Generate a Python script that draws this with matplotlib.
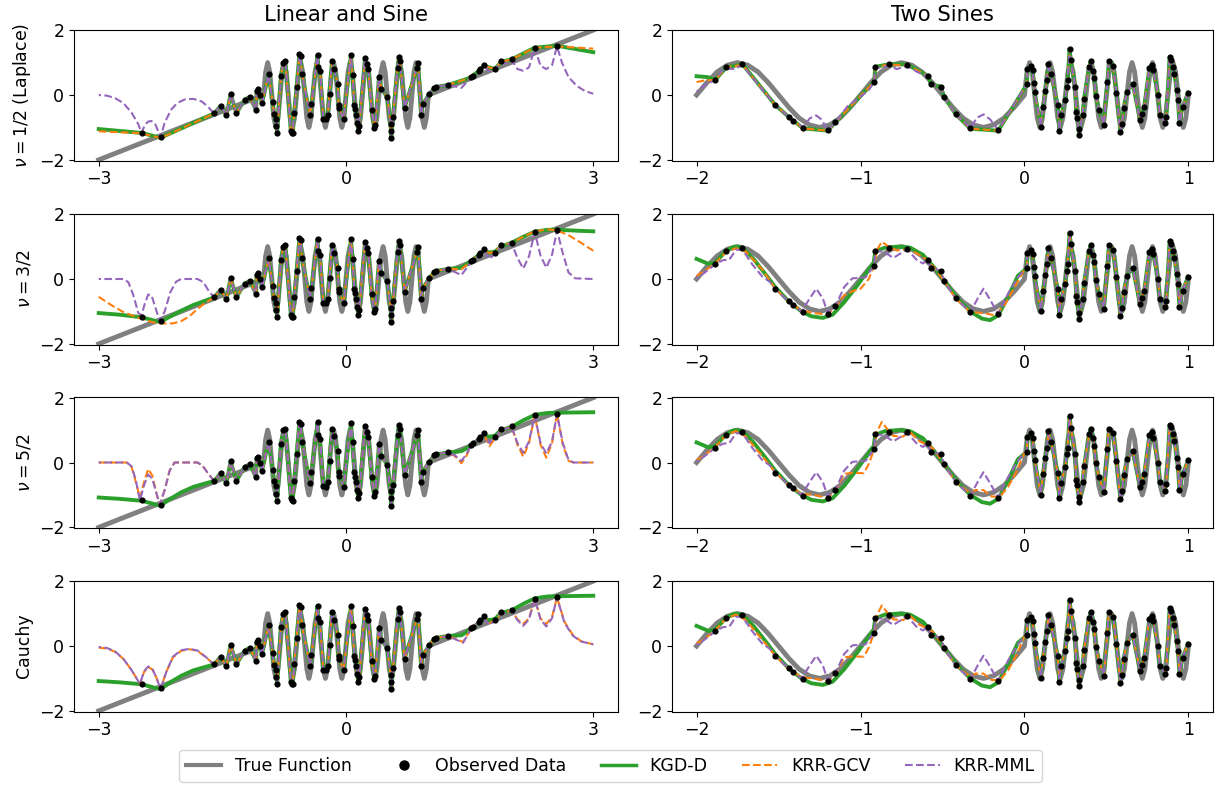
"""Kernel regression fits (KGD-D, KRR-GCV, KRR-MML) on two toy targets,
one row per kernel. Values read off the reference figure.
"""
import matplotlib
matplotlib.use("Agg")
import matplotlib.pyplot as plt
import numpy as np
from matplotlib.lines import Line2D

# ---------------- Linear and Sine ----------------
# true function: straight line, fast sine on [-1, 1], straight line
LS_TRUE_LEFT = [(-3.0, -2.0)]
LS_TRUE_RIGHT = [(3.0, 2.0)]
LS_SINE_Y = [
    0, .71, 1, .71, 0, -.71, -1, -.71,
    0, .71, 1, .71, 0, -.71, -1, -.71,
    0, .71, 1, .71, 0, -.71, -1, -.71,
    0, .71, 1, .71, 0, -.71, -1, -.71,
    0, .71, 1, .71, 0, -.71, -1, -.71,
    0, .71, 1, .71, 0, -.71, -1, -.71,
    0, .71, 1, .71, 0, -.71, -1, -.71,
    0, .71, 1, .71, 0, -.71, -1, -.71,
    0, .71, 1, .71, 0, -.71, -1, -.71,
    0, .71, 1, .71, 0, -.71, -1, -.71,
    0,
]
LS_SINE_RANGE = (-1.0, 1.0)

LS_OBS_X = [-2.48, -2.25, -1.60, -1.52, -1.45, -1.40, -1.33, -1.23, -1.17, -1.09,
            -1.085, -1.065, -1.045, -1.02, -0.94, -0.89, -0.875, -0.855, -0.845, -0.835,
            -0.79, -0.76, -0.735, -0.67, -0.655, -0.645, -0.63, -0.6, -0.565, -0.55,
            -0.535, -0.435, -0.42, -0.345, -0.335, -0.315, -0.275, -0.245, -0.22, -0.2,
            -0.17, -0.145, -0.1, -0.09, -0.08, -0.03, 0.06, 0.08, 0.1, 0.11,
            0.125, 0.135, 0.15, 0.16, 0.23, 0.255, 0.27, 0.31, 0.345, 0.355,
            0.4, 0.43, 0.5, 0.54, 0.545, 0.55, 0.57, 0.625, 0.64, 0.655,
            0.71, 0.86, 0.875, 0.91, 0.93, 1.01, 1.07, 1.09, 1.24, 1.52,
            1.54, 1.61, 1.63, 1.67, 1.81, 1.88, 2.01, 2.29, 2.56]
LS_OBS_Y = [-1.17, -1.31, -0.57, -0.33, -0.63, 0.04, -0.57, -0.14, -0.06, -0.46,
            0.13, 0.17, 0.0, -0.26, 0.64, -0.22, -0.58, -0.74, -0.96, -1.18,
            0.58, 1.0, 1.04, -1.10, -1.16, -1.18, -0.56, 0.25, 1.26, 1.20,
            0.64, -0.63, -0.29, 1.24, 0.85, 0.74, -0.74, -0.75, -0.61, 0.04,
            1.04, 0.81, 0.34, -0.30, -0.41, -0.75, 1.23, 0.62, -0.30, -0.44,
            -0.61, -0.85, -1.10, -0.95, 1.13, 0.95, 0.80, -0.45, -1.02, -0.92,
            0.57, 0.2, -0.07, -0.88, -1.10, -1.33, -0.69, 0.84, 1.16, 1.04,
            -0.40, 0.84, 0.99, -0.61, -0.29, 0.02, 0.22, 0.25, 0.31, 0.54,
            0.60, 0.74, 0.79, 0.92, 0.79, 1.04, 1.12, 1.45, 1.51]
# fits follow the observations inside this window, tails are read separately
LS_FOLLOW = (-1.6, 1.3)

# Laplace (nu = 1/2)
LS_KGD_LAP_L = [(-3, -1.05), (-2.48, -1.17), (-2.25, -1.32), (-1.6, -0.57)]
LS_KGD_LAP_R = [(1.52, 0.54), (1.54, 0.6), (1.61, 0.74), (1.63, 0.79), (1.67, 0.9), (1.81, 0.8),
                (1.88, 1.02), (2.01, 1.1), (2.29, 1.46), (2.56, 1.52), (3.0, 1.32)]
LS_GCV_LAP_L = [(-3, -1.12), (-2.48, -1.18), (-2.25, -1.33), (-1.6, -0.57)]
LS_GCV_LAP_R = [(1.52, 0.54), (1.54, 0.6), (1.61, 0.74), (1.63, 0.79), (1.67, 0.9), (1.81, 0.8),
                (1.88, 1.02), (2.01, 1.1), (2.29, 1.46), (2.56, 1.5), (3.0, 1.43)]
LS_MML_LAP_L = [(-3, 0.0), (-2.9, -0.02), (-2.8, -0.1), (-2.7, -0.25), (-2.6, -0.55), (-2.52, -0.9),
                (-2.48, -1.17), (-2.44, -0.92), (-2.4, -0.82), (-2.36, -0.8), (-2.31, -0.92),
                (-2.25, -1.31), (-2.2, -0.85), (-2.12, -0.45), (-2.05, -0.25), (-1.95, -0.13),
                (-1.85, -0.12), (-1.75, -0.2), (-1.68, -0.35), (-1.6, -0.57)]
LS_MML_LAP_R = [(1.4, 0.22), (1.52, 0.54), (1.54, 0.6), (1.61, 0.74), (1.63, 0.79), (1.67, 0.9),
                (1.74, 0.72), (1.81, 0.78), (1.88, 1.02), (1.95, 0.98), (2.01, 1.08), (2.08, 0.8),
                (2.15, 0.75), (2.22, 0.85), (2.29, 1.45), (2.36, 0.9), (2.43, 0.8), (2.5, 0.92),
                (2.56, 1.5), (2.62, 1.0), (2.7, 0.55), (2.8, 0.28), (2.9, 0.12), (3.0, 0.04)]

# Matern nu = 3/2
LS_KGD_M32_L = [(-3, -1.05), (-2.75, -1.1), (-2.48, -1.18), (-2.3, -1.3), (-2.25, -1.32),
                (-2.15, -1.18), (-2.0, -0.98), (-1.85, -0.8), (-1.7, -0.66), (-1.6, -0.57)]
LS_KGD_M32_R = [(1.4, 0.35), (1.52, 0.56), (1.61, 0.74), (1.67, 0.85), (1.75, 0.82), (1.81, 0.85),
                (1.88, 1.0), (2.01, 1.12), (2.15, 1.3), (2.29, 1.46), (2.45, 1.52), (2.56, 1.52),
                (2.8, 1.49), (3.0, 1.47)]
LS_GCV_M32_L = [(-3, -0.55), (-2.85, -0.8), (-2.7, -1.02), (-2.55, -1.17), (-2.45, -1.25),
                (-2.35, -1.33), (-2.25, -1.37), (-2.1, -1.37), (-2.0, -1.3), (-1.9, -1.15),
                (-1.8, -0.92), (-1.7, -0.72), (-1.6, -0.57)]
LS_GCV_M32_R = [(1.4, 0.3), (1.52, 0.56), (1.61, 0.78), (1.67, 0.88), (1.75, 0.8), (1.81, 0.85),
                (1.88, 1.02), (2.01, 1.12), (2.15, 1.3), (2.29, 1.47), (2.45, 1.53), (2.56, 1.5),
                (2.7, 1.35), (2.85, 1.12), (3.0, 0.87)]
LS_MML_M32_L = [(-3, 0.0), (-2.7, 0.0), (-2.64, -0.1), (-2.58, -0.5), (-2.52, -1.05), (-2.48, -1.12),
                (-2.44, -0.75), (-2.4, -0.48), (-2.36, -0.5), (-2.31, -0.9), (-2.26, -1.3),
                (-2.2, -1.0), (-2.13, -0.4), (-2.06, -0.08), (-2.0, 0.0), (-1.8, 0.0),
                (-1.73, -0.1), (-1.67, -0.35), (-1.6, -0.57)]
LS_MML_M32_R = [(1.4, 0.12), (1.52, 0.54), (1.61, 0.74), (1.67, 0.88), (1.74, 0.62), (1.81, 0.78),
                (1.88, 1.0), (2.01, 1.1), (2.08, 0.65), (2.15, 0.32), (2.22, 0.7), (2.29, 1.45),
                (2.36, 0.72), (2.43, 0.35), (2.5, 0.75), (2.56, 1.5), (2.63, 0.8), (2.7, 0.2),
                (2.78, 0.02), (3.0, 0.0)]

# Matern nu = 5/2
LS_KGD_M52_L = [(-3, -1.08), (-2.75, -1.12), (-2.48, -1.18), (-2.3, -1.3), (-2.25, -1.33),
                (-2.15, -1.15), (-2.0, -0.92), (-1.85, -0.75), (-1.7, -0.64), (-1.6, -0.57)]
LS_KGD_M52_R = [(1.4, 0.35), (1.52, 0.52), (1.61, 0.72), (1.67, 0.82), (1.75, 0.8), (1.81, 0.83),
                (1.88, 1.0), (2.01, 1.1), (2.15, 1.3), (2.29, 1.47), (2.45, 1.53), (2.7, 1.54),
                (3.0, 1.55)]
LS_GCV_M52_L = [(-3, 0.0), (-2.66, 0.0), (-2.6, -0.15), (-2.55, -0.6), (-2.5, -1.1), (-2.45, -0.6),
                (-2.4, -0.2), (-2.35, -0.4), (-2.3, -0.95), (-2.26, -1.3), (-2.2, -0.85),
                (-2.14, -0.25), (-2.08, 0.0), (-1.8, 0.0), (-1.74, -0.1), (-1.67, -0.35), (-1.6, -0.57)]
LS_GCV_M52_R = [(1.32, 0.2), (1.4, -0.02), (1.46, 0.2), (1.52, 0.54), (1.61, 0.74), (1.67, 0.9),
                (1.74, 0.5), (1.81, 0.75), (1.88, 1.0), (2.01, 1.1), (2.08, 0.55), (2.15, 0.18),
                (2.22, 0.6), (2.29, 1.45), (2.36, 0.55), (2.43, 0.15), (2.5, 0.6), (2.56, 1.5),
                (2.63, 0.55), (2.7, 0.05), (2.76, 0.0), (3.0, 0.0)]
LS_MML_M52_L = [(-3, 0.0), (-2.66, 0.0), (-2.6, -0.12), (-2.55, -0.55), (-2.5, -1.17), (-2.45, -0.7),
                (-2.4, -0.37), (-2.35, -0.5), (-2.3, -0.95), (-2.26, -1.3), (-2.2, -0.85),
                (-2.14, -0.25), (-2.08, 0.0), (-1.8, 0.0), (-1.74, -0.1), (-1.67, -0.35), (-1.6, -0.57)]
LS_MML_M52_R = [(1.32, 0.22), (1.4, 0.05), (1.46, 0.25), (1.52, 0.54), (1.61, 0.74), (1.67, 0.88),
                (1.74, 0.6), (1.81, 0.78), (1.88, 1.0), (2.01, 1.1), (2.08, 0.6), (2.15, 0.3),
                (2.22, 0.65), (2.29, 1.45), (2.36, 0.6), (2.43, 0.28), (2.5, 0.65), (2.56, 1.5),
                (2.63, 0.6), (2.7, 0.08), (2.76, 0.0), (3.0, 0.0)]

# Cauchy
LS_KGD_CAU_L = [(-3, -1.08), (-2.75, -1.12), (-2.48, -1.18), (-2.3, -1.3), (-2.25, -1.33),
                (-2.15, -1.15), (-2.0, -0.92), (-1.85, -0.75), (-1.7, -0.64), (-1.6, -0.57)]
LS_KGD_CAU_R = [(1.4, 0.33), (1.52, 0.52), (1.61, 0.72), (1.67, 0.82), (1.75, 0.8), (1.81, 0.84),
                (1.88, 1.02), (2.01, 1.1), (2.15, 1.3), (2.29, 1.47), (2.45, 1.53), (2.7, 1.54),
                (3.0, 1.55)]
LS_GCV_CAU_L = [(-3, -0.05), (-2.9, -0.08), (-2.8, -0.18), (-2.7, -0.4), (-2.6, -0.75), (-2.5, -1.17),
                (-2.45, -0.8), (-2.4, -0.65), (-2.35, -0.72), (-2.3, -0.98), (-2.25, -1.32),
                (-2.18, -0.8), (-2.1, -0.35), (-2.0, -0.15), (-1.9, -0.1), (-1.8, -0.15),
                (-1.7, -0.35), (-1.6, -0.57)]
LS_GCV_CAU_R = [(1.35, 0.2), (1.42, 0.12), (1.52, 0.54), (1.61, 0.74), (1.67, 0.88), (1.74, 0.7),
                (1.81, 0.8), (1.88, 1.0), (2.01, 1.1), (2.08, 0.82), (2.15, 0.68), (2.22, 0.85),
                (2.29, 1.45), (2.36, 0.85), (2.43, 0.68), (2.5, 0.9), (2.56, 1.5), (2.65, 0.75),
                (2.75, 0.35), (2.85, 0.15), (3.0, 0.05)]
LS_MML_CAU_L = [(-3, -0.03), (-2.9, -0.06), (-2.8, -0.17), (-2.7, -0.4), (-2.6, -0.75), (-2.5, -1.17),
                (-2.45, -0.78), (-2.4, -0.63), (-2.35, -0.7), (-2.3, -0.98), (-2.25, -1.32),
                (-2.18, -0.8), (-2.1, -0.33), (-2.0, -0.13), (-1.9, -0.09), (-1.8, -0.14),
                (-1.7, -0.34), (-1.6, -0.57)]
LS_MML_CAU_R = [(1.35, 0.18), (1.42, 0.1), (1.52, 0.54), (1.61, 0.74), (1.67, 0.86), (1.74, 0.66),
                (1.81, 0.78), (1.88, 1.0), (2.01, 1.1), (2.08, 0.8), (2.15, 0.62), (2.22, 0.82),
                (2.29, 1.45), (2.36, 0.82), (2.43, 0.6), (2.5, 0.86), (2.56, 1.5), (2.65, 0.72),
                (2.75, 0.32), (2.85, 0.14), (3.0, 0.05)]

# ---------------- Two Sines ----------------
TS_SLOW_Y = [
    0, .38, .71, .92, 1, .92, .71, .38, 0, -.38, -.71, -.92, -1, -.92, -.71, -.38,
    0, .38, .71, .92, 1, .92, .71, .38, 0, -.38, -.71, -.92, -1, -.92, -.71, -.38,
    0,
]
TS_SLOW_RANGE = (-2.0, 0.0)
TS_FAST_Y = [
    0, .71, 1, .71, 0, -.71, -1, -.71,
    0, .71, 1, .71, 0, -.71, -1, -.71,
    0, .71, 1, .71, 0, -.71, -1, -.71,
    0, .71, 1, .71, 0, -.71, -1, -.71,
    0, .71, 1, .71, 0, -.71, -1, -.71,
    0, .71, 1, .71, 0, -.71, -1, -.71,
    0, .71, 1, .71, 0, -.71, -1, -.71,
    0, .71, 1, .71, 0, -.71, -1, -.71,
    0,
]
TS_FAST_RANGE = (0.0, 1.0)

TS_OBS_X = [-1.887, -1.82, -1.72, -1.52, -1.437, -1.41, -1.35, -1.2, -1.153, -0.917,
            -0.91, -0.825, -0.715, -0.59, -0.57, -0.51, -0.49, -0.42, -0.33, -0.16,
            0.015, 0.018, 0.04, 0.05, 0.058, 0.062, 0.1, 0.112, 0.128, 0.138,
            0.146, 0.162, 0.203, 0.212, 0.223, 0.249, 0.259, 0.263, 0.275, 0.283,
            0.309, 0.315, 0.319, 0.33, 0.333, 0.354, 0.363, 0.394, 0.404, 0.42,
            0.425, 0.434, 0.455, 0.485, 0.505, 0.515, 0.541, 0.561, 0.585, 0.595,
            0.605, 0.625, 0.66, 0.705, 0.715, 0.73, 0.762, 0.776, 0.785, 0.815,
            0.825, 0.855, 0.865, 0.885, 0.895, 0.905, 0.915, 0.928, 0.936, 0.945,
            0.965, 0.998]
TS_OBS_Y = [0.46, 0.85, 0.95, -0.31, -0.68, -0.79, -1.02, -1.09, -0.84, 0.41,
            0.87, 0.95, 0.94, 0.59, 0.33, 0.26, -0.06, -0.59, -1.03, -1.09,
            0.33, 0.79, 0.90, 0.77, 0.36, 0.08, -0.99, -0.36, 0.13, 0.46,
            0.97, 0.64, -0.31, -1.10, -0.63, -0.15, 0.26, 0.46, 1.43, 1.07,
            0.26, -0.53, -0.70, -1.05, -1.23, -0.61, -0.12, 0.87, 1.04, 0.75,
            0.52, -0.02, -0.46, -0.91, 0.41, 1.04, 0.90, 0.05, -1.13, -0.89,
            -0.39, 0.10, 0.35, -0.77, -0.60, -0.36, 0.84, 0.94, 0.77, 0.0,
            -0.61, -0.87, -0.67, 1.16, 1.08, 0.87, 0.66, 0.15, -0.15, -0.85,
            -0.36, 0.07]
TS_FOLLOW = (0.0, 1.1)

TS_KGD_LAP = [(-2.0, 0.58), (-1.93, 0.55), (-1.887, 0.46), (-1.82, 0.85), (-1.72, 0.95), (-1.52, -0.31),
              (-1.437, -0.68), (-1.41, -0.79), (-1.35, -1.03), (-1.2, -1.1), (-1.153, -0.84),
              (-0.917, 0.41), (-0.91, 0.87), (-0.825, 0.95), (-0.715, 0.94), (-0.59, 0.59),
              (-0.57, 0.33), (-0.51, 0.26), (-0.49, -0.06), (-0.42, -0.59), (-0.33, -1.04),
              (-0.16, -1.1)]
TS_GCV_LAP = [(-2.0, 0.4), (-1.95, 0.45), (-1.887, 0.46), (-1.82, 0.85), (-1.72, 0.93), (-1.52, -0.31),
              (-1.437, -0.68), (-1.41, -0.79), (-1.35, -1.03), (-1.2, -1.1), (-1.153, -0.84),
              (-0.917, 0.41), (-0.91, 0.87), (-0.825, 0.93), (-0.715, 0.92), (-0.59, 0.59),
              (-0.57, 0.33), (-0.51, 0.26), (-0.49, -0.06), (-0.42, -0.59), (-0.33, -1.04),
              (-0.16, -1.1)]
TS_MML_LAP = [(-2.0, 0.1), (-1.95, 0.3), (-1.887, 0.46), (-1.85, 0.72), (-1.82, 0.82), (-1.77, 0.8),
              (-1.72, 0.92), (-1.62, 0.3), (-1.52, -0.31), (-1.437, -0.68), (-1.41, -0.79),
              (-1.35, -1.0), (-1.31, -0.72), (-1.27, -0.63), (-1.24, -0.75), (-1.2, -1.08),
              (-1.153, -0.84), (-1.08, -0.35), (-1.0, -0.05), (-0.95, 0.15), (-0.917, 0.41),
              (-0.91, 0.85), (-0.87, 0.84), (-0.825, 0.92), (-0.78, 0.8), (-0.715, 0.9),
              (-0.65, 0.7), (-0.59, 0.59), (-0.57, 0.33), (-0.51, 0.26), (-0.49, -0.06),
              (-0.42, -0.59), (-0.33, -1.02), (-0.29, -0.7), (-0.25, -0.6), (-0.21, -0.75),
              (-0.16, -1.08), (-0.1, -0.6), (-0.04, -0.1)]
TS_KGD_SMOOTH = [(-2.0, 0.62), (-1.93, 0.47), (-1.887, 0.5), (-1.82, 0.87), (-1.77, 1.0), (-1.72, 0.97),
                 (-1.65, 0.6), (-1.58, 0.15), (-1.52, -0.25), (-1.44, -0.68), (-1.36, -1.0),
                 (-1.3, -1.15), (-1.23, -1.2), (-1.17, -1.1), (-1.1, -0.72), (-1.02, -0.2),
                 (-0.96, 0.22), (-0.92, 0.5), (-0.91, 0.85), (-0.85, 0.97), (-0.77, 1.0),
                 (-0.7, 0.97), (-0.62, 0.75), (-0.55, 0.35), (-0.48, -0.12), (-0.4, -0.65),
                 (-0.33, -1.0), (-0.26, -1.22), (-0.21, -1.27), (-0.16, -1.12), (-0.1, -0.55),
                 (-0.04, 0.1)]
TS_GCV_M32 = [(-2.0, 0.1), (-1.95, 0.25), (-1.887, 0.48), (-1.82, 0.83), (-1.76, 0.95), (-1.7, 0.85),
              (-1.6, 0.3), (-1.52, -0.3), (-1.44, -0.68), (-1.36, -0.98), (-1.28, -1.05),
              (-1.2, -1.1), (-1.15, -0.85), (-1.1, -0.5), (-1.05, -0.38), (-1.0, -0.3),
              (-0.95, 0.0), (-0.917, 0.41), (-0.9, 0.9), (-0.87, 1.15), (-0.83, 1.0), (-0.78, 0.88),
              (-0.72, 0.9), (-0.66, 0.8), (-0.59, 0.58), (-0.55, 0.35), (-0.49, -0.06),
              (-0.42, -0.6), (-0.33, -1.02), (-0.25, -1.05), (-0.18, -1.12), (-0.12, -0.8),
              (-0.06, -0.25), (0.0, 0.3)]
TS_GCV_SMOOTH = [(-2.0, 0.08), (-1.95, 0.22), (-1.887, 0.48), (-1.82, 0.85), (-1.76, 0.97), (-1.7, 0.8),
                 (-1.6, 0.2), (-1.52, -0.3), (-1.44, -0.7), (-1.36, -0.97), (-1.28, -1.0),
                 (-1.2, -1.1), (-1.15, -0.85), (-1.1, -0.35), (-1.05, -0.32), (-0.98, -0.33),
                 (-0.95, -0.05), (-0.917, 0.41), (-0.9, 0.95), (-0.87, 1.25), (-0.84, 1.05),
                 (-0.8, 0.82), (-0.74, 0.8), (-0.7, 0.95), (-0.64, 0.65), (-0.59, 0.55),
                 (-0.55, 0.4), (-0.49, -0.06), (-0.42, -0.6), (-0.33, -0.95), (-0.3, -0.85),
                 (-0.25, -0.85), (-0.2, -1.05), (-0.15, -1.05), (-0.1, -0.75), (-0.05, -0.3),
                 (0.0, 0.3)]
TS_MML_SMOOTH = [(-2.0, 0.03), (-1.95, 0.2), (-1.887, 0.45), (-1.84, 0.58), (-1.8, 0.6), (-1.76, 0.9),
                 (-1.72, 0.9), (-1.66, 0.45), (-1.6, 0.08), (-1.55, -0.1), (-1.52, -0.31),
                 (-1.44, -0.68), (-1.36, -1.0), (-1.31, -0.6), (-1.27, -0.3), (-1.23, -0.6),
                 (-1.2, -1.05), (-1.153, -0.84), (-1.1, -0.25), (-1.05, 0.02), (-0.97, 0.05),
                 (-0.917, 0.41), (-0.91, 0.85), (-0.86, 0.85), (-0.8, 0.65), (-0.715, 0.92),
                 (-0.66, 0.6), (-0.62, 0.48), (-0.59, 0.58), (-0.57, 0.33), (-0.51, 0.26),
                 (-0.49, -0.06), (-0.42, -0.59), (-0.33, -1.02), (-0.28, -0.55), (-0.25, -0.3),
                 (-0.22, -0.55), (-0.16, -1.08), (-0.1, -0.45), (-0.04, 0.05), (0.0, 0.3)]

ROW_LABELS = [r"$\nu = 1/2$ (Laplace)", r"$\nu = 3/2$", r"$\nu = 5/2$", "Cauchy"]
COL_TITLES = ["Linear and Sine", "Two Sines"]
SERIES = ["True Function", "Observed Data", "KGD-D", "KRR-GCV", "KRR-MML"]

C_TRUE, C_KGD, C_GCV, C_MML = "gray", "#2ca02c", "#ff7f0e", "#9467bd"


def build_fit(left, obs_x, obs_y, window, right=()):
    lo, hi = window
    keep = (obs_x > lo) & (obs_x < hi)
    xs = [p[0] for p in left] + list(obs_x[keep]) + [p[0] for p in right]
    ys = [p[1] for p in left] + list(obs_y[keep]) + [p[1] for p in right]
    return np.array(xs), np.array(ys)


def main():
    plt.rcParams["font.size"] = 12.5

    ls_x, ls_y = np.array(LS_OBS_X), np.array(LS_OBS_Y)
    ts_x, ts_y = np.array(TS_OBS_X), np.array(TS_OBS_Y)

    sine_x = np.linspace(*LS_SINE_RANGE, len(LS_SINE_Y))
    ls_true_x = np.r_[[p[0] for p in LS_TRUE_LEFT], sine_x, [p[0] for p in LS_TRUE_RIGHT]]
    ls_true_y = np.r_[[p[1] for p in LS_TRUE_LEFT], LS_SINE_Y, [p[1] for p in LS_TRUE_RIGHT]]
    slow_x = np.linspace(*TS_SLOW_RANGE, len(TS_SLOW_Y))
    fast_x = np.linspace(*TS_FAST_RANGE, len(TS_FAST_Y))
    ts_true_x = np.r_[slow_x, fast_x[1:]]
    ts_true_y = np.r_[TS_SLOW_Y, TS_FAST_Y[1:]]

    ls_fits = [
        [(LS_KGD_LAP_L, LS_KGD_LAP_R), (LS_GCV_LAP_L, LS_GCV_LAP_R), (LS_MML_LAP_L, LS_MML_LAP_R)],
        [(LS_KGD_M32_L, LS_KGD_M32_R), (LS_GCV_M32_L, LS_GCV_M32_R), (LS_MML_M32_L, LS_MML_M32_R)],
        [(LS_KGD_M52_L, LS_KGD_M52_R), (LS_GCV_M52_L, LS_GCV_M52_R), (LS_MML_M52_L, LS_MML_M52_R)],
        [(LS_KGD_CAU_L, LS_KGD_CAU_R), (LS_GCV_CAU_L, LS_GCV_CAU_R), (LS_MML_CAU_L, LS_MML_CAU_R)],
    ]
    ts_fits = [
        [TS_KGD_LAP, TS_GCV_LAP, TS_MML_LAP],
        [TS_KGD_SMOOTH, TS_GCV_M32, TS_MML_SMOOTH],
        [TS_KGD_SMOOTH, TS_GCV_SMOOTH, TS_MML_SMOOTH],
        [TS_KGD_SMOOTH, TS_GCV_SMOOTH, TS_MML_SMOOTH],
    ]

    W, H = 1216, 785
    fig = plt.figure(figsize=(W / 100, H / 100), dpi=100)
    col_px = [(74, 618), (672, 1213)]
    row_top = [29.5, 213.5, 397.0, 580.5]
    row_h = 131

    fit_styles = [
        dict(color=C_KGD, lw=2.8, ls="-", zorder=2),
        dict(color=C_GCV, lw=1.5, ls=(0, (3.7, 1.6)), zorder=3),
        dict(color=C_MML, lw=1.5, ls=(2.6, (3.7, 1.6)), zorder=4),
    ]

    for r in range(4):
        for c in range(2):
            x0, x1 = col_px[c]
            ax = fig.add_axes([x0 / W, 1 - (row_top[r] + row_h) / H, (x1 - x0) / W, row_h / H])
            if c == 0:
                ax.plot(ls_true_x, ls_true_y, color=C_TRUE, lw=3.5, zorder=1)
                for (left, right), st in zip(ls_fits[r], fit_styles):
                    fx, fy = build_fit(left, ls_x, ls_y, LS_FOLLOW, right)
                    ax.plot(fx, fy, **st)
                ax.scatter(ls_x, ls_y, s=20, color="black", zorder=5, linewidths=0)
                ax.set_xticks([-3, 0, 3])
                ax.set_ylabel(ROW_LABELS[r])
            else:
                ax.plot(ts_true_x, ts_true_y, color=C_TRUE, lw=3.5, zorder=1)
                for left, st in zip(ts_fits[r], fit_styles):
                    fx, fy = build_fit(left, ts_x, ts_y, TS_FOLLOW)
                    ax.plot(fx, fy, **st)
                ax.scatter(ts_x, ts_y, s=20, color="black", zorder=5, linewidths=0)
                ax.set_xticks([-2, -1, 0, 1])
            ax.set_ylim(-2.02, 2.02)
            ax.set_yticks([-2, 0, 2])
            if r == 0:
                ax.set_title(COL_TITLES[c], fontsize=15.2)

    handles = [
        Line2D([], [], color=C_TRUE, lw=3),
        Line2D([], [], color="black", marker="o", ls="none", markersize=6.5),
        Line2D([], [], color=C_KGD, lw=2.5),
        Line2D([], [], color=C_GCV, lw=1.5, ls="--"),
        Line2D([], [], color=C_MML, lw=1.5, ls="--"),
    ]
    fig.legend(handles, SERIES, loc="lower center", bbox_to_anchor=(0.502, -0.007), ncol=5)

    fig.savefig("out.png", dpi=100)
    plt.close(fig)


if __name__ == "__main__":
    main()
